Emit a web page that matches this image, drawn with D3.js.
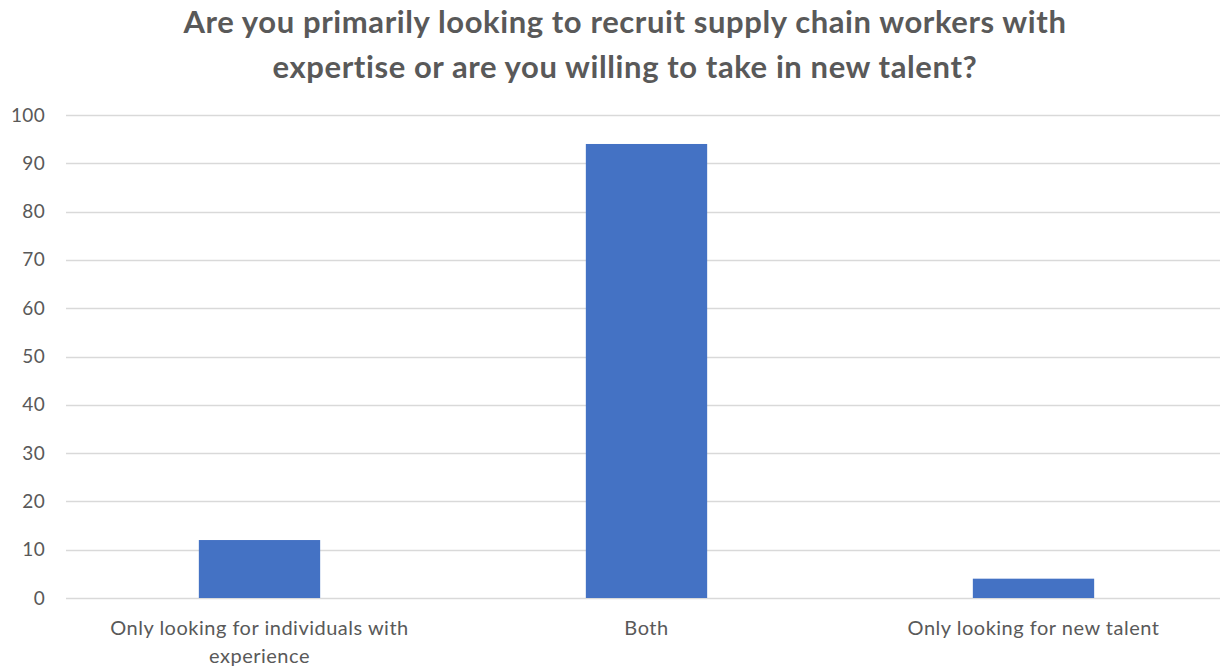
<!DOCTYPE html>
<html>
<head>
<meta charset="utf-8">
<script src="https://cdn.jsdelivr.net/npm/d3@7"></script>
<style>
  html, body { margin: 0; padding: 0; background: #fff; }
  svg { display: block; }
</style>
</head>
<body>
<svg id="chart" width="1220" height="666"></svg>
<script>
// Survey answers and counts
const categories = [
  "Only looking for individuals with experience",
  "Both",
  "Only looking for new talent"
];
const values = [12, 94, 4];
const yTicks = [0, 10, 20, 30, 40, 50, 60, 70, 80, 90, 100];
const titleLines = [
  "Are you primarily looking to recruit supply chain workers with",
  "expertise or are you willing to take in new talent?"
];

const W = 1220, H = 666;
const margin = { top: 115, right: -7, bottom: 68, left: 66 };
const FONT = "Lato, 'Open Sans', sans-serif";
const TEXT = "#595959";

const svg = d3.select("#chart");
const plotW = W - margin.left - margin.right;
const plotH = H - margin.top - margin.bottom;

const g = svg.append("g").attr("transform", `translate(${margin.left},${margin.top})`);

const x = d3.scaleBand()
  .domain(categories)
  .range([0, plotW])
  .paddingInner(0.6865)
  .paddingOuter(0.34325);

const y = d3.scaleLinear().domain([0, 100]).range([plotH, 0]);

// Horizontal gridlines
g.append("g")
  .selectAll("line")
  .data(yTicks)
  .join("line")
  .attr("x1", 0)
  .attr("x2", plotW)
  .attr("y1", d => Math.round(y(d)) + 0.5)
  .attr("y2", d => Math.round(y(d)) + 0.5)
  .attr("stroke", "#d9d9d9")
  .attr("stroke-width", 1.3);

// Y axis labels
const yAxis = g.append("g")
  .call(d3.axisLeft(y).tickValues(yTicks).tickSize(0).tickPadding(21));
yAxis.select(".domain").remove();
yAxis.selectAll("text")
  .attr("fill", TEXT)
  .style("font-family", FONT)
  .style("font-size", "19px")
  .style("letter-spacing", "0.3px");

// Bars
g.append("g")
  .selectAll("rect")
  .data(values)
  .join("rect")
  .attr("x", (d, i) => x(categories[i]))
  .attr("width", x.bandwidth())
  .attr("y", d => y(d))
  .attr("height", d => y(0) - y(d))
  .attr("fill", "#4472C4");

// Category labels with wrapping
const xAxis = g.append("g")
  .attr("transform", `translate(0,${plotH})`)
  .call(d3.axisBottom(x).tickSize(0).tickPadding(0));
xAxis.select(".domain").remove();
xAxis.selectAll("text")
  .attr("fill", TEXT)
  .style("font-family", FONT)
  .style("font-size", "20px")
  .style("letter-spacing", "0.5px")
  .each(function(d) {
    const t = d3.select(this);
    const words = d.split(" ");
    t.text(null);
    let line = [];
    let lineNo = 0;
    let tspan = t.append("tspan").attr("x", 0).attr("y", 37);
    for (const w of words) {
      line.push(w);
      tspan.text(line.join(" "));
      if (tspan.node().getComputedTextLength() > 340 && line.length > 1) {
        line.pop();
        tspan.text(line.join(" "));
        line = [w];
        lineNo++;
        tspan = t.append("tspan").attr("x", 0).attr("y", 37 + lineNo * 28).text(w);
      }
    }
  })
  .attr("dy", null);

// Title
svg.append("text")
  .attr("x", 625)
  .attr("text-anchor", "middle")
  .attr("fill", TEXT)
  .style("font-family", FONT)
  .style("font-size", "31px")
  .style("font-weight", "bold")
  .style("letter-spacing", "0.6px")
  .selectAll("tspan")
  .data(titleLines)
  .join("tspan")
  .attr("x", 625)
  .attr("y", (d, i) => 33 + i * 45)
  .text(d => d);
</script>
</body>
</html>
